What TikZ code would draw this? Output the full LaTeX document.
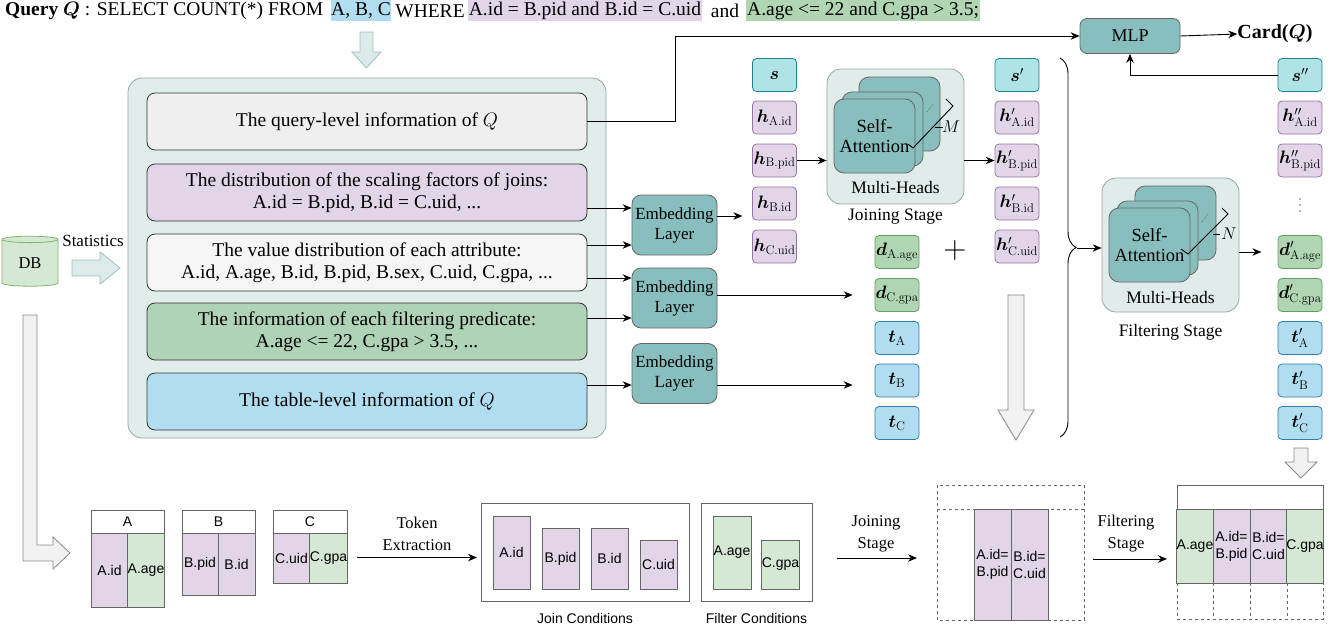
\RequirePackage{fix-cm}
\documentclass[tikz,border=0pt]{standalone}
\usepackage{amsmath,bm}
\usepackage[no-math]{fontspec}
\setmainfont{Liberation Serif}
\newfontfamily\sansf{Liberation Sans}
\usetikzlibrary{arrows.meta,shapes.geometric,decorations.pathreplacing,calc}
\definecolor{teal1}{HTML}{88BEBE}
\definecolor{bigbg}{HTML}{E1EDEB}
\definecolor{bigb}{HTML}{9AA4A4}
\definecolor{purp}{HTML}{E1D5E7}
\definecolor{purpb}{HTML}{9673A6}
\definecolor{grn}{HTML}{D5E8D4}
\definecolor{grnd}{HTML}{B0D5B2}
\definecolor{grnb}{HTML}{5FA05F}
\definecolor{blu}{HTML}{B1DDF0}
\definecolor{blub}{HTML}{2F7FAA}
\definecolor{sfill}{HTML}{B0E3E6}
\definecolor{sbord}{HTML}{18868C}
\definecolor{gbord}{HTML}{666666}
\definecolor{ibord}{HTML}{333333}
\definecolor{qfill}{HTML}{EFEFEF}
\definecolor{vfill}{HTML}{F5F5F5}
\definecolor{pfill}{HTML}{AFD3B6}
\definecolor{mhbg}{HTML}{DFECEA}
\definecolor{arrf}{HTML}{DCEAE9}
\definecolor{arrb}{HTML}{9FBFC0}
\definecolor{garrf}{HTML}{F2F2F2}
\definecolor{garrb}{HTML}{888888}
\definecolor{dbf}{HTML}{D5E8D4}
\definecolor{dbb}{HTML}{82B366}
\tikzset{
 arr/.style={-{Stealth[length=9pt,width=7.5pt]}, line width=0.9pt},
 tok/.style={draw, rounded corners=4pt, minimum width=44pt, minimum height=33pt, inner sep=0pt, line width=0.8pt, font=\fontsize{18}{20}\selectfont},
 tokS/.style={tok, fill=sfill, draw=sbord},
 tokH/.style={tok, fill=purp, draw=purpb},
 tokD/.style={tok, fill=grnd, draw=grnb},
 tokT/.style={tok, fill=blu, draw=blub},
 ibox/.style={draw=ibord, rounded corners=8pt, minimum width=440pt, minimum height=57pt, line width=0.8pt, align=center, font=\fontsize{19.5}{22}\selectfont, inner sep=0pt},
 emb/.style={fill=teal1, draw=gbord, rounded corners=9pt, minimum width=85pt, minimum height=60pt, align=center, font=\fontsize{17}{20}\selectfont, line width=0.8pt, inner sep=0pt},
 card/.style={fill=teal1, draw=gbord, rounded corners=10pt, minimum width=81pt, minimum height=74pt, line width=0.8pt, inner sep=0pt, align=center, font=\fontsize{18.5}{20}\selectfont},
 mh/.style={fill=mhbg, draw=bigb, rounded corners=14pt, line width=0.8pt, inner sep=0pt},
 cell/.style={draw=gbord, line width=0.8pt, inner sep=0pt, font=\sansf\fontsize{14}{17}\selectfont, align=center},
 lbl/.style={font=\fontsize{17}{22}\selectfont, align=center, inner sep=0pt},
 slbl/.style={font=\sansf\fontsize{14}{17}\selectfont, inner sep=0pt},
 hl/.style={inner sep=0pt, minimum height=21pt, font=\fontsize{19.5}{24}\selectfont},
 bluarr/.style={fill=arrf, draw=arrb, line width=0.8pt},
 gryarr/.style={fill=garrf, draw=garrb, line width=0.8pt},
}
\begin{document}
\begin{tikzpicture}[x=1pt,y=-1pt]
\useasboundingbox (0,0) rectangle (1343,632);

% ---------- query line ----------
\node[hl, anchor=west] (qtxt) at (5,11) {\textbf{Query} $\bm{Q}$ : SELECT COUNT(*) FROM};
\node[hl, fill=blu, minimum width=60pt] (qfrom) at (361,10.5) {A, B, C};
\node[hl] (qwhere) at (430,11) {WHERE};
\node[hl, fill=purp, minimum width=234pt] (qjoin) at (585,10.5) {A.id = B.pid and B.id = C.uid};
\node[hl] (qand) at (725,11) {and};
\node[hl, fill=grnd, anchor=west, inner xsep=1pt] (qfilt) at (746,10.5) {A.age <= 22 and C.gpa > 3.5;};

% top down arrow
\filldraw[bluarr] (360,32) -- (373,32) -- (373,52) -- (381,52) -- (366.5,68) -- (352,52) -- (360,52) -- cycle;

% ---------- main box ----------
\filldraw[fill=bigbg, draw=bigb, line width=0.8pt, rounded corners=14pt] (128,78) rectangle (606,438);
\node[ibox, fill=qfill] (q1) at (367,121.5) {The query-level information of $Q$};
\node[ibox, fill=purp] (q2) at (367,192.5) {The distribution of the scaling factors of joins:\\A.id = B.pid, B.id = C.uid, ...};
\node[ibox, fill=vfill] (q3) at (367,262.5) {The value distribution of each attribute:\\A.id, A.age, B.id, B.pid, B.sex, C.uid, C.gpa, ...};
\node[ibox, fill=pfill] (q4) at (367,331.5) {The information of each filtering predicate:\\A.age <= 22, C.gpa > 3.5, ...};
\node[ibox, fill=blu] (q5) at (367,401.5) {The table-level information of $Q$};

% DB
\node[cylinder, shape border rotate=90, aspect=0.28, draw=dbb, fill=dbf, line width=0.8pt, minimum width=56pt, minimum height=50pt, inner sep=0pt, font=\fontsize{16.5}{18}\selectfont] (db) at (30,263) {\raisebox{-8pt}{DB}};
\node[lbl] (stat) at (93,241) {Statistics};
\filldraw[bluarr] (72,260) -- (100,260) -- (100,252) -- (120,268) -- (100,284) -- (100,276) -- (72,276) -- cycle;
% L arrow
\filldraw[gryarr] (23,315) -- (37,315) -- (37,545) -- (53,545) -- (53,537) -- (70,553) -- (53,569) -- (53,561) -- (23,561) -- cycle;

% ---------- embedding layers ----------
\node[emb] (e1) at (674.5,225) {Embedding\\Layer};
\node[emb] (e2) at (674.5,298) {Embedding\\Layer};
\node[emb] (e3) at (674.5,373.5) {Embedding\\Layer};

\coordinate (a1) at ($(q2.east)+(0,15.5)$);
\coordinate (a2) at ($(q3.east)+(0,-17.5)$);
\coordinate (a3) at ($(q3.east)+(0,15.5)$);
\coordinate (a4) at ($(q4.east)+(0,-13.5)$);
\coordinate (a5) at ($(q5.east)+(0,-16.5)$);
\draw[arr] (a1) -- (a1 -| e1.west);
\draw[arr] (a2) -- (a2 -| e1.west);
\draw[arr] (a3) -- (a3 -| e2.west);
\draw[arr] (a4) -- (a4 -| e2.west);
\draw[arr] (a5) -- (a5 -| e3.west);

% ---------- token columns ----------
\node[tokS] (s)  at (774.5,75) {$\bm{s}$};
\node[tokH] (h1) at (774.5,117.5) {$\bm{h}_{\mathrm{A.id}}$};
\node[tokH] (h2) at (774.5,160.5) {$\bm{h}_{\mathrm{B.pid}}$};
\node[tokH] (h3) at (774.5,203.5) {$\bm{h}_{\mathrm{B.id}}$};
\node[tokH] (h4) at (774.5,246.5) {$\bm{h}_{\mathrm{C.uid}}$};

\node[tokD] (d1) at (897,252) {$\bm{d}_{\mathrm{A.age}}$};
\node[tokD] (d2) at (897,295) {$\bm{d}_{\mathrm{C.gpa}}$};
\node[tokT] (t1) at (897,338) {$\bm{t}_{\mathrm{A}}$};
\node[tokT] (t2) at (897,380.5) {$\bm{t}_{\mathrm{B}}$};
\node[tokT] (t3) at (897,423) {$\bm{t}_{\mathrm{C}}$};

\node[tokS] (sp)  at (1017,75) {$\bm{s}'$};
\node[tokH] (hp1) at (1017,117.5) {$\bm{h}'_{\mathrm{A.id}}$};
\node[tokH] (hp2) at (1017,160.5) {$\bm{h}'_{\mathrm{B.pid}}$};
\node[tokH] (hp3) at (1017,203.5) {$\bm{h}'_{\mathrm{B.id}}$};
\node[tokH] (hp4) at (1017,246.5) {$\bm{h}'_{\mathrm{C.uid}}$};

\node[tokS] (spp)  at (1300,75) {$\bm{s}''$};
\node[tokH] (hpp1) at (1300,117.5) {$\bm{h}''_{\mathrm{A.id}}$};
\node[tokH] (hpp2) at (1300,160.5) {$\bm{h}''_{\mathrm{B.pid}}$};
\foreach \yy in {199,205,211} \fill[gbord] (1300,\yy) circle (0.9pt);
\node[tokD] (dp1) at (1300,252) {$\bm{d}'_{\mathrm{A.age}}$};
\node[tokD] (dp2) at (1300,295) {$\bm{d}'_{\mathrm{C.gpa}}$};
\node[tokT] (tp1) at (1300,338) {$\bm{t}'_{\mathrm{A}}$};
\node[tokT] (tp2) at (1300,380.5) {$\bm{t}'_{\mathrm{B}}$};
\node[tokT] (tp3) at (1300,423) {$\bm{t}'_{\mathrm{C}}$};

% embedding outputs
\coordinate (o1) at ($(e1.east)+(0,-9)$);
\draw[arr] (o1) -- ++(25,0);
\coordinate (o2) at ($(d2.west)+(-22,0)$);
\draw[arr] (e2.east |- d2.west) -- (o2);
\coordinate (o3a) at ($(e3.east)+(0,11.5)$);
\coordinate (o3b) at ($(t2.west)+(-22,0)$);
\draw[arr] (o3a) -- (o3a -| o3b);

\node[font=\fontsize{32}{32}\selectfont] (plus) at (955,250) {$+$};

% ---------- joining stage ----------
\node[mh, minimum width=137pt, minimum height=135pt] (jbox) at (895.5,136.5) {};
\node[card] (jc3) at (899.5,114) {};
\node[card] (jc2) at (882.5,129) {};
\node[card] (jc1) at (874.5,136) {Self-\\Attention};
\draw[dotted, line width=0.8pt, gbord] (927,112) -- (933,104);
\draw[line width=0.9pt] (908,144) -- (913,148) -- (953,106) -- (946,99);
\draw[line width=0.9pt] (935,127) -- (943,127);
\node[font=\fontsize{17}{20}\selectfont, inner sep=0pt] (jm) at (951,127) {$M$};
\node[lbl, font=\fontsize{17.5}{20}\selectfont] (jmh) at (895.5,188) {Multi-Heads};
\node[lbl, font=\fontsize{17.5}{20}\selectfont] (jst) at (895.5,217) {Joining Stage};
\draw[arr] (h2.east) -- (h2.east -| jbox.west);
\draw[arr] (jbox.east |- hp2.west) -- (hp2.west);

% ---------- brace and filtering stage ----------
\draw[line width=0.9pt, decorate, decoration={brace, amplitude=16pt, aspect=0.5}] (1060,58) -- (1060,437);
\coordinate (btip) at (1077,248);
\node[mh, minimum width=137pt, minimum height=134pt] (fbox) at (1170.5,245) {};
\node[card] (fc3) at (1175.5,223) {};
\node[card] (fc2) at (1157.5,238) {};
\node[card] (fc1) at (1149.5,245) {Self-\\Attention};
\draw[dotted, line width=0.8pt, gbord] (1202,222) -- (1208,214);
\draw[line width=0.9pt] (1181,249) -- (1188,254) -- (1228,214) -- (1222,208);
\draw[line width=0.9pt] (1213,234) -- (1220,234);
\node[font=\fontsize{17}{20}\selectfont, inner sep=0pt] (fn) at (1229,234) {$N$};
\node[lbl, font=\fontsize{17.5}{20}\selectfont] (fmh) at (1170.5,298) {Multi-Heads};
\node[lbl, font=\fontsize{17.5}{20}\selectfont] (fst) at (1170.5,332) {Filtering Stage};
\draw[arr] (btip) -- (btip -| fbox.west);
\draw[arr] (fbox.east |- dp1.west) -- ++(22,0);

% ---------- MLP ----------
\node[fill=teal1, draw=gbord, rounded corners=7pt, line width=0.8pt, minimum width=100pt, minimum height=35pt, inner sep=0pt, font=\fontsize{18}{20}\selectfont] (mlp) at (1130,36) {MLP};
\node[font=\bfseries\fontsize{20}{24}\selectfont, inner sep=0pt] (card) at (1275,34) {Card($\bm{Q}$)};
\draw[arr] (mlp.east) -- (card.west);
\draw[arr] (q1.east) -- ++(88,0) |- (mlp.west);
\draw[arr] (spp.west) -| (mlp.south);

% grey down arrows
\filldraw[gryarr] (1008,295) -- (1024,295) -- (1024,410) -- (1034,410) -- (1016,440) -- (998,410) -- (1008,410) -- cycle;
\filldraw[gryarr] (1294,448) -- (1308,448) -- (1308,462) -- (1317,462) -- (1301,478) -- (1285,462) -- (1294,462) -- cycle;

% ---------- bottom tables ----------
\node[cell, fill=white, minimum width=73pt, minimum height=23pt] (tA) at (127.5,521.5) {A};
\node[cell, fill=purp, minimum width=37pt, minimum height=74pt] (tA1) at (109.5,570) {A.id};
\node[cell, fill=grn, minimum width=36pt, minimum height=74pt] (tA2) at (146,570) {A.age};
\node[cell, fill=white, minimum width=73pt, minimum height=23pt] (tB) at (218.5,521.5) {B};
\node[cell, fill=purp, minimum width=36pt, minimum height=62pt] (tB1) at (200,564) {B.pid};
\node[cell, fill=purp, minimum width=37pt, minimum height=62pt] (tB2) at (236.5,564) {B.id};
\node[cell, fill=white, minimum width=74pt, minimum height=23pt] (tC) at (310,521.5) {C};
\node[cell, fill=purp, minimum width=37pt, minimum height=50pt] (tC1) at (291.5,558) {C.uid};
\node[cell, fill=grn, minimum width=37pt, minimum height=50pt] (tC2) at (328.5,558) {C.gpa};

\node[lbl, font=\fontsize{16.5}{22}\selectfont] (tok) at (417,534) {Token\\Extraction};
\coordinate (te1) at (357,557.5);
\coordinate (te2) at (477,557.5);
\draw[arr] (te1) -- (te2);

\node[draw=gbord, line width=0.8pt, minimum width=208pt, minimum height=98pt, inner sep=0pt] (jcb) at (585,552) {};
\node[cell, fill=purp, minimum width=37pt, minimum height=73pt] (j1) at (511.5,552.5) {A.id};
\node[cell, fill=purp, minimum width=37pt, minimum height=61pt] (j2) at (560.5,558.5) {B.pid};
\node[cell, fill=purp, minimum width=37pt, minimum height=61pt] (j3) at (609.5,558.5) {B.id};
\node[cell, fill=purp, minimum width=37pt, minimum height=49pt] (j4) at (658.5,564.5) {C.uid};
\node[slbl] (jcl) at (585,618) {Join Conditions};

\node[draw=gbord, line width=0.8pt, minimum width=111pt, minimum height=98pt, inner sep=0pt] (fcb) at (756.5,552) {};
\node[cell, fill=grn, minimum width=38pt, minimum height=73pt] (f1) at (732,552.5) {A.age};
\node[cell, fill=grn, minimum width=37pt, minimum height=49pt] (f2) at (780.5,564.5) {C.gpa};
\node[slbl] (fcl) at (756.5,618) {Filter Conditions};

\node[lbl, font=\fontsize{16.5}{22}\selectfont] (js2) at (876,534) {Joining\\Stage};
\coordinate (ja1) at (837,558);
\coordinate (ja2) at (917,558);
\draw[arr] (ja1) -- (ja2);

% joined table
\draw[dashed, gbord, line width=0.8pt] (937,485) rectangle (1084,620);
\draw[dashed, gbord, line width=0.8pt] (937,509) -- (1084,509);
\node[cell, fill=purp, minimum width=37pt, minimum height=111pt] (jt1) at (992.5,564.5) {A.id=\\B.pid};
\node[cell, fill=purp, minimum width=37pt, minimum height=111pt] (jt2) at (1029.5,564.5) {B.id=\\C.uid};

\node[lbl, font=\fontsize{16.5}{22}\selectfont] (fs2) at (1126,534) {Filtering\\Stage};
\coordinate (fa1) at (1093,559);
\coordinate (fa2) at (1167,559);
\draw[arr] (fa1) -- (fa2);

% final table
\draw[dashed, gbord, line width=0.8pt] (1177,583) rectangle (1323,619);
\foreach \xx in {1213,1250,1287} \draw[dashed, gbord, line width=0.8pt] (\xx,583) -- (\xx,619);
\node[cell, fill=white, minimum width=146pt, minimum height=24pt] (ft) at (1250,497) {};
\node[cell, fill=grn, minimum width=36pt, minimum height=74pt] (ft1) at (1195,546) {A.age};
\node[cell, fill=purp, minimum width=37pt, minimum height=74pt] (ft2) at (1231.5,546) {A.id=\\B.pid};
\node[cell, fill=purp, minimum width=37pt, minimum height=74pt] (ft3) at (1268.5,546) {B.id=\\C.uid};
\node[cell, fill=grn, minimum width=36pt, minimum height=74pt] (ft4) at (1305,546) {C.gpa};
\end{tikzpicture}
\end{document}
